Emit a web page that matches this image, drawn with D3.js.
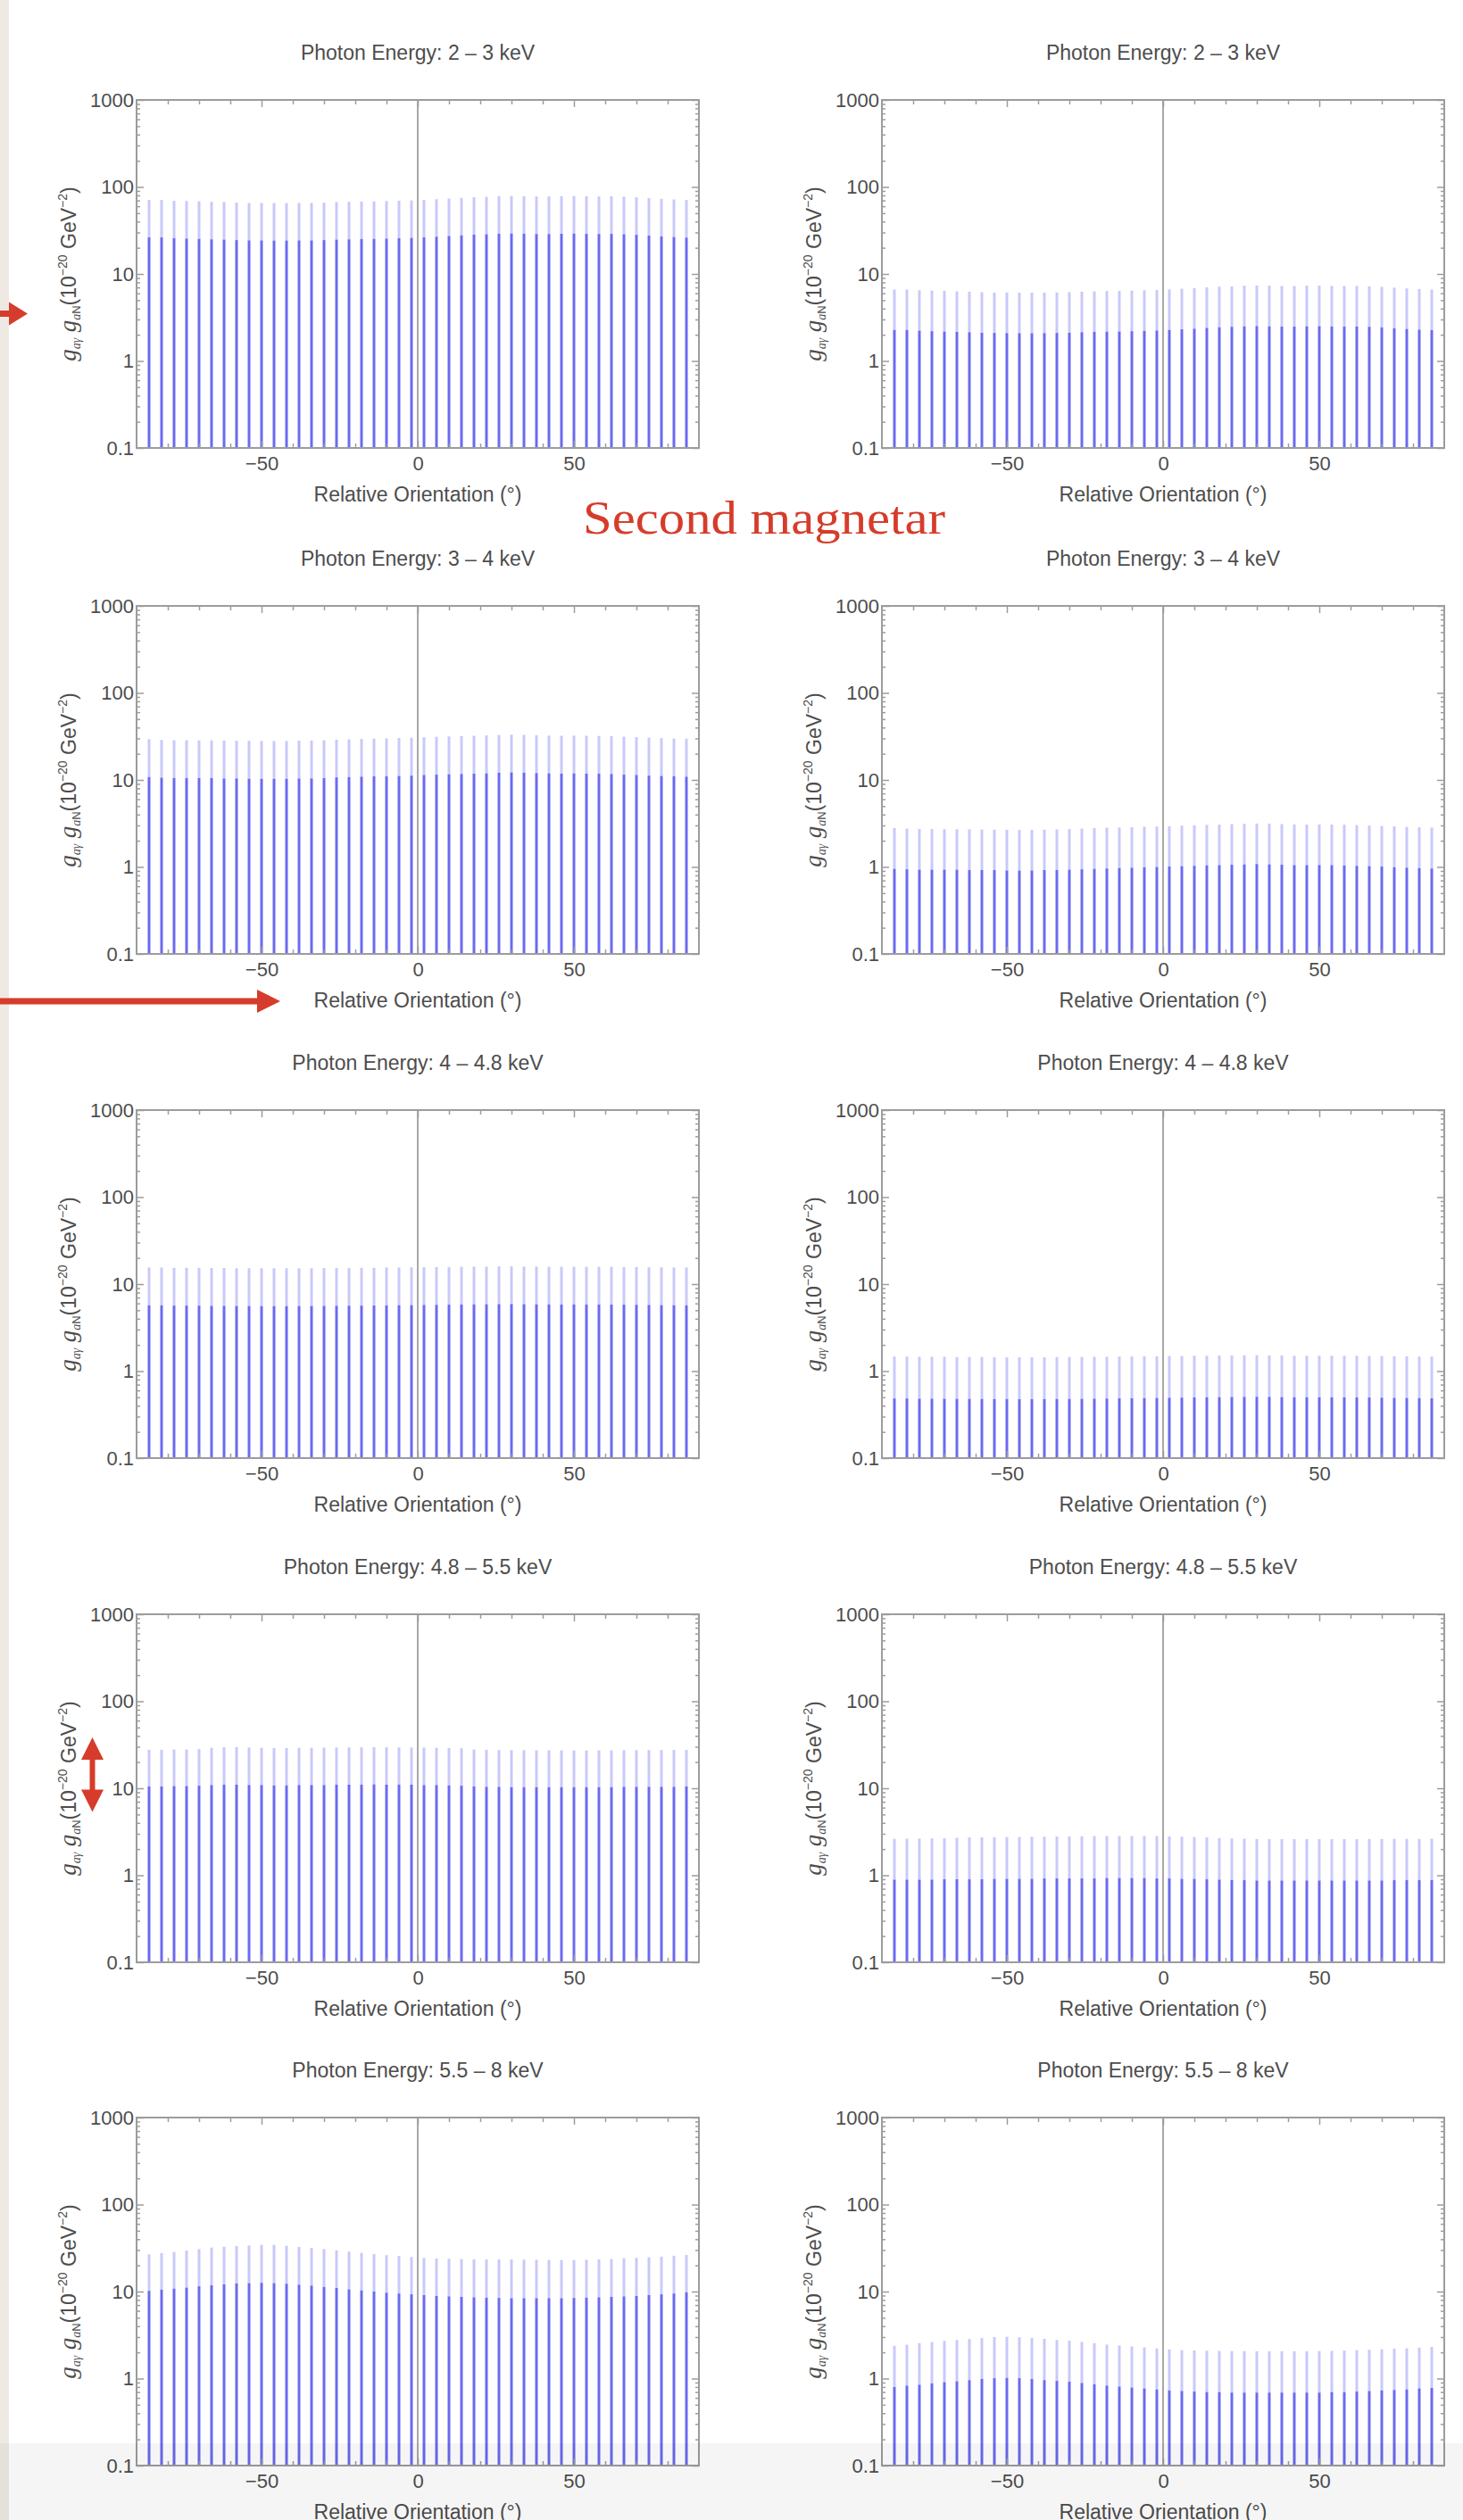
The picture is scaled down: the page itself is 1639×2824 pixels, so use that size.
<!DOCTYPE html>
<html>
<head>
<meta charset="utf-8">
<script src="https://cdnjs.cloudflare.com/ajax/libs/d3/7.8.5/d3.min.js"></script>
<style>
  html, body { margin: 0; padding: 0; background: #fff; }
  svg { display: block; }
</style>
</head>
<body>
<svg id="slide" width="1639" height="2824"></svg>
<script>
// Relative orientation of each sample (degrees)
const angles = [-86,-82,-78,-74,-70,-66,-62,-58,-54,-50,-46,-42,-38,-34,-30,-26,-22,-18,-14,-10,-6,-2,
                2,6,10,14,18,22,26,30,34,38,42,46,50,54,58,62,66,70,74,78,82,86];

// Photon energy bands (keV), one row of panels each
const energyBands = ["2 – 3", "3 – 4", "4 – 4.8", "4.8 – 5.5", "5.5 – 8"];

// Axis ticks
const xTickValues = [-50, 0, 50];
const xTickLabels = ["−50", "0", "50"];
const yTickValues = [0.1, 1, 10, 100, 1000];
const yTickLabels = ["0.1", "1", "10", "100", "1000"];

// g_aγ g_aN in units of 1e-20 GeV^-2 : lower (solid) and upper (faint) levels
// left column
const lo_L_2_3 = [26.3,26.3,25.8,25.5,25.3,25.0,24.8,24.5,24.3,24.3,24.2,24.2,24.3,24.3,24.5,24.8,25.0,25.2,25.3,25.5,25.8,26.0,
                  26.3,26.8,27.3,27.8,28.3,28.6,29.0,29.2,29.0,28.8,28.8,29.0,29.1,28.9,28.8,28.9,28.6,28.2,27.6,27.0,26.6,26.2];
const hi_L_2_3 = [71.0,71.0,69.5,69.0,68.5,67.5,67.0,66.0,65.5,65.5,65.3,65.3,65.5,65.5,66.0,67.0,67.5,68.0,68.3,69.0,69.5,70.0,
                  71.0,72.3,73.5,75.0,76.3,77.0,78.3,78.8,78.3,77.8,77.8,78.3,78.5,78.0,77.8,78.0,77.2,76.0,74.5,73.0,71.8,70.7];
const lo_L_3_4 = [10.8,10.6,10.5,10.5,10.5,10.5,10.4,10.4,10.3,10.3,10.3,10.3,10.4,10.4,10.5,10.7,10.8,10.9,11.0,11.0,11.1,11.2,
                  11.4,11.5,11.6,11.7,11.8,11.9,12.1,12.2,12.1,12.0,11.9,11.8,11.9,11.8,11.8,11.7,11.5,11.4,11.2,11.1,11.0,10.9];
const hi_L_3_4 = [29.4,28.8,28.6,28.6,28.5,28.5,28.4,28.2,28.1,28.0,28.0,28.0,28.2,28.4,28.6,29.0,29.3,29.6,29.8,30.0,30.3,30.5,
                  30.9,31.3,31.6,31.9,32.2,32.5,32.8,33.1,33.0,32.6,32.3,32.2,32.3,32.2,32.0,31.8,31.4,31.0,30.6,30.2,29.9,29.7];
const lo_L_4_48 = [5.70,5.70,5.66,5.66,5.65,5.63,5.62,5.60,5.60,5.59,5.59,5.59,5.60,5.60,5.62,5.63,5.64,5.66,5.68,5.70,5.72,5.74,
                   5.76,5.78,5.80,5.83,5.85,5.87,5.89,5.90,5.88,5.86,5.84,5.83,5.83,5.82,5.82,5.81,5.80,5.78,5.76,5.74,5.72,5.71];
const hi_L_4_48 = [15.5,15.5,15.4,15.4,15.4,15.3,15.3,15.2,15.2,15.2,15.2,15.2,15.2,15.2,15.3,15.3,15.3,15.4,15.4,15.5,15.5,15.6,
                   15.6,15.7,15.7,15.8,15.9,15.9,16.0,16.0,15.9,15.9,15.8,15.8,15.8,15.8,15.8,15.8,15.7,15.7,15.6,15.6,15.5,15.5];
const lo_L_48_55 = [10.5,10.5,10.6,10.6,10.7,10.9,11.0,11.0,10.9,10.9,10.8,10.8,10.9,10.9,10.9,11.0,11.0,11.0,11.1,11.0,11.0,11.0,
                    10.9,10.9,10.8,10.7,10.5,10.4,10.4,10.3,10.3,10.3,10.3,10.3,10.3,10.3,10.3,10.3,10.4,10.4,10.4,10.4,10.4,10.5];
const hi_L_48_55 = [27.7,27.7,27.9,27.9,28.3,29.2,29.7,29.7,29.4,29.2,29.0,29.0,29.2,29.2,29.3,29.4,29.5,29.6,29.7,29.6,29.5,29.4,
                    29.3,29.2,29.0,28.8,27.9,27.7,27.5,27.4,27.4,27.3,27.3,27.3,27.2,27.2,27.3,27.3,27.4,27.4,27.5,27.5,27.6,27.6];
const lo_L_55_8 = [10.2,10.5,10.8,11.1,11.5,11.8,12.1,12.4,12.5,12.6,12.5,12.3,12.0,11.7,11.3,11.0,10.6,10.3,10.0,9.7,9.5,9.3,
                   9.1,8.9,8.8,8.7,8.6,8.5,8.45,8.4,8.4,8.4,8.4,8.4,8.45,8.5,8.6,8.7,8.8,8.9,9.1,9.3,9.5,9.8];
const hi_L_55_8 = [26.7,27.6,28.5,29.6,30.8,32.1,32.8,33.3,33.8,34.4,34.4,33.6,32.6,31.8,30.8,29.8,28.8,27.8,27.0,26.2,25.6,25.0,
                   24.3,24.0,23.8,23.6,23.5,23.4,23.4,23.4,23.3,23.2,23.1,23.0,23.0,23.2,23.5,23.7,24.1,24.4,24.8,25.2,25.8,26.3];
// right column
const lo_R_2_3 = [2.27,2.27,2.23,2.20,2.18,2.16,2.14,2.11,2.10,2.09,2.09,2.08,2.09,2.10,2.11,2.14,2.16,2.17,2.18,2.20,2.22,2.24,
                  2.27,2.31,2.35,2.40,2.44,2.47,2.50,2.52,2.50,2.48,2.48,2.50,2.51,2.49,2.48,2.49,2.47,2.43,2.38,2.33,2.29,2.26];
const hi_R_2_3 = [6.62,6.63,6.50,6.45,6.40,6.31,6.26,6.17,6.12,6.12,6.10,6.09,6.12,6.13,6.17,6.26,6.31,6.36,6.38,6.45,6.50,6.54,
                  6.64,6.76,6.87,7.01,7.13,7.20,7.32,7.36,7.32,7.27,7.27,7.32,7.34,7.29,7.27,7.29,7.21,7.10,6.96,6.82,6.71,6.61];
const lo_R_3_4 = [0.95,0.94,0.93,0.93,0.93,0.93,0.92,0.92,0.92,0.91,0.91,0.91,0.92,0.92,0.93,0.94,0.95,0.96,0.97,0.98,0.99,1.00,
                  1.01,1.02,1.03,1.04,1.05,1.06,1.07,1.08,1.07,1.06,1.05,1.05,1.05,1.05,1.04,1.03,1.02,1.01,0.99,0.98,0.97,0.96];
const hi_R_3_4 = [2.80,2.75,2.73,2.72,2.71,2.71,2.70,2.69,2.68,2.67,2.67,2.67,2.68,2.70,2.72,2.76,2.79,2.82,2.84,2.86,2.89,2.91,
                  2.94,2.98,3.01,3.04,3.07,3.10,3.12,3.15,3.14,3.11,3.08,3.07,3.08,3.07,3.05,3.03,2.99,2.95,2.92,2.88,2.85,2.83];
const lo_R_4_48 = [0.485,0.485,0.482,0.482,0.481,0.480,0.479,0.478,0.477,0.477,0.476,0.476,0.477,0.478,0.479,0.480,0.482,0.484,0.486,0.488,0.490,0.492,
                   0.494,0.496,0.498,0.500,0.502,0.504,0.506,0.507,0.505,0.503,0.501,0.500,0.500,0.499,0.499,0.498,0.497,0.495,0.493,0.491,0.489,0.487];
const hi_R_4_48 = [1.47,1.47,1.46,1.46,1.46,1.45,1.45,1.45,1.44,1.44,1.44,1.44,1.44,1.45,1.45,1.45,1.46,1.46,1.47,1.47,1.48,1.48,
                   1.49,1.49,1.50,1.50,1.51,1.51,1.52,1.52,1.51,1.51,1.50,1.50,1.50,1.50,1.50,1.50,1.49,1.49,1.48,1.48,1.47,1.47];
const lo_R_48_55 = [0.89,0.89,0.89,0.89,0.90,0.90,0.90,0.90,0.91,0.91,0.91,0.91,0.92,0.92,0.92,0.92,0.92,0.93,0.93,0.93,0.93,0.92,
                    0.92,0.91,0.91,0.90,0.89,0.88,0.88,0.87,0.87,0.87,0.87,0.87,0.87,0.87,0.87,0.87,0.87,0.87,0.88,0.88,0.88,0.88];
const hi_R_48_55 = [2.62,2.63,2.64,2.65,2.67,2.70,2.72,2.73,2.74,2.75,2.76,2.77,2.78,2.79,2.80,2.81,2.82,2.82,2.83,2.83,2.83,2.82,
                    2.80,2.78,2.75,2.72,2.68,2.65,2.63,2.61,2.60,2.60,2.60,2.60,2.60,2.60,2.60,2.60,2.61,2.61,2.62,2.62,2.62,2.63];
const lo_R_55_8 = [0.80,0.83,0.85,0.88,0.91,0.93,0.96,0.99,1.01,1.02,1.01,0.99,0.96,0.94,0.92,0.89,0.86,0.83,0.81,0.79,0.77,0.75,
                   0.73,0.72,0.71,0.70,0.70,0.69,0.69,0.69,0.69,0.69,0.69,0.69,0.69,0.70,0.70,0.71,0.72,0.73,0.74,0.75,0.77,0.78];
const hi_R_55_8 = [2.38,2.45,2.55,2.63,2.71,2.78,2.85,2.92,3.00,3.02,2.98,2.92,2.86,2.78,2.72,2.64,2.55,2.46,2.40,2.34,2.28,2.22,
                   2.16,2.12,2.10,2.09,2.08,2.07,2.07,2.06,2.06,2.06,2.06,2.06,2.07,2.08,2.10,2.12,2.14,2.17,2.20,2.23,2.27,2.31];

const leftSeries  = [[lo_L_2_3, hi_L_2_3], [lo_L_3_4, hi_L_3_4], [lo_L_4_48, hi_L_4_48], [lo_L_48_55, hi_L_48_55], [lo_L_55_8, hi_L_55_8]];
const rightSeries = [[lo_R_2_3, hi_R_2_3], [lo_R_3_4, hi_R_3_4], [lo_R_4_48, hi_R_4_48], [lo_R_48_55, hi_R_48_55], [lo_R_55_8, hi_R_55_8]];

const panels = [];
energyBands.forEach((band, r) => {
  panels.push({ col: 0, row: r, band, lo: leftSeries[r][0], hi: leftSeries[r][1] });
  panels.push({ col: 1, row: r, band, lo: rightSeries[r][0], hi: rightSeries[r][1] });
});

// ---- layout ----
const W = 1639, H = 2824;
const colX = [153, 988];
const rowY = [112, 679, 1244, 1809, 2373];
const PW = 630, PH = 390;
const SANS = "'Liberation Sans', Arial, Helvetica, sans-serif";
const SERIF = "'Liberation Serif', 'Times New Roman', serif";
const RED = "#d63c2b";
const FRAME = "#9c9c9c";
const TEXT = "#4d4d4d";

const svg = d3.select("#slide");
svg.append("rect").attr("width", W).attr("height", H).attr("fill", "#fff");
svg.append("rect").attr("x", 0).attr("y", 0).attr("width", 10).attr("height", H).attr("fill", "#eeeae3");

panels.forEach(p => {
  const g = svg.append("g").attr("transform", `translate(${colX[p.col]},${rowY[p.row]})`);
  const x = d3.scaleLinear().domain([-90, 90]).range([0, PW]);
  const y = d3.scaleLog().domain([0.1, 1000]).range([PH, 0]);

  // faint upper part of each bar
  g.append("g").selectAll("line").data(angles).join("line")
    .attr("x1", d => x(d)).attr("x2", d => x(d))
    .attr("y1", (d, i) => y(p.lo[i])).attr("y2", (d, i) => y(p.hi[i]))
    .attr("stroke", "#c9c9fa").attr("stroke-width", 3);
  // solid lower part
  g.append("g").selectAll("line").data(angles).join("line")
    .attr("x1", d => x(d)).attr("x2", d => x(d))
    .attr("y1", y(0.1)).attr("y2", (d, i) => y(p.lo[i]))
    .attr("stroke", "#6a6af0").attr("stroke-width", 3);

  // zero reference line
  g.append("line").attr("x1", x(0)).attr("x2", x(0)).attr("y1", 0).attr("y2", PH)
    .attr("stroke", "#a8a8a8").attr("stroke-width", 2);

  // minor ticks
  const xMinor = d3.range(-80, 81, 10).filter(v => !xTickValues.includes(v));
  const yMinor = y.ticks().filter(v => !yTickValues.some(t => Math.abs(t - v) < 1e-9));

  const styleAxis = sel => {
    sel.select(".domain").remove();
    sel.selectAll(".tick line").attr("stroke", FRAME).attr("stroke-width", 1.5);
    sel.selectAll(".tick text").attr("fill", TEXT).attr("font-family", SANS).attr("font-size", 22);
  };

  g.append("g").attr("transform", `translate(0,${PH})`)
    .call(d3.axisBottom(x).tickValues(xTickValues).tickSize(-8).tickPadding(9)
      .tickFormat((d, i) => xTickLabels[i])).call(styleAxis);
  g.append("g").attr("transform", `translate(0,${PH})`)
    .call(d3.axisBottom(x).tickValues(xMinor).tickSize(-5).tickFormat("")).call(styleAxis);
  g.append("g").call(d3.axisTop(x).tickValues(xTickValues).tickSize(-8).tickFormat("")).call(styleAxis);
  g.append("g").call(d3.axisTop(x).tickValues(xMinor).tickSize(-5).tickFormat("")).call(styleAxis);

  g.append("g").call(d3.axisLeft(y).tickValues(yTickValues).tickSize(-8).tickPadding(3)
      .tickFormat((d, i) => yTickLabels[i])).call(styleAxis);
  g.append("g").call(d3.axisLeft(y).tickValues(yMinor).tickSize(-4).tickFormat("")).call(styleAxis);
  g.append("g").attr("transform", `translate(${PW},0)`)
    .call(d3.axisRight(y).tickValues(yTickValues).tickSize(-8).tickFormat("")).call(styleAxis);
  g.append("g").attr("transform", `translate(${PW},0)`)
    .call(d3.axisRight(y).tickValues(yMinor).tickSize(-4).tickFormat("")).call(styleAxis);

  // frame
  g.append("rect").attr("x", 0).attr("y", 0).attr("width", PW).attr("height", PH)
    .attr("fill", "none").attr("stroke", FRAME).attr("stroke-width", 2);

  // title
  g.append("text").attr("x", x(0)).attr("y", -45).attr("text-anchor", "middle")
    .attr("font-family", SANS).attr("font-size", 23).attr("fill", TEXT)
    .text(`Photon Energy: ${p.band} keV`);

  // x axis label
  g.append("text").attr("x", x(0)).attr("y", PH + 60).attr("text-anchor", "middle")
    .attr("font-family", SANS).attr("font-size", 23).attr("fill", TEXT)
    .text("Relative Orientation (°)");

  // y axis label
  const yl = g.append("text").attr("transform", `translate(-68,${PH / 2}) rotate(-90)`)
    .attr("text-anchor", "middle").attr("font-family", SANS).attr("font-size", 23).attr("fill", TEXT);
  yl.append("tspan").attr("font-family", SERIF).attr("font-style", "italic").attr("font-size", 27).text("g");
  yl.append("tspan").attr("font-family", SERIF).attr("font-style", "italic").attr("font-size", 14).attr("dy", 5).text("aγ");
  yl.append("tspan").attr("dy", -5).text(" ");
  yl.append("tspan").attr("font-family", SERIF).attr("font-style", "italic").attr("font-size", 27).text("g");
  yl.append("tspan").attr("font-family", SERIF).attr("font-style", "italic").attr("font-size", 14).attr("dy", 5).text("a");
  yl.append("tspan").attr("font-size", 13).text("N");
  yl.append("tspan").attr("dy", -5).text("(10");
  yl.append("tspan").attr("font-size", 14).attr("dy", -10).text("−20");
  yl.append("tspan").attr("dy", 10).text(" GeV");
  yl.append("tspan").attr("font-size", 14).attr("dy", -10).text("−2");
  yl.append("tspan").attr("dy", 10).text(")");
});

// ---- slide annotations ----
const ann = svg.append("g").attr("fill", RED);
// short arrow pointing at the first panel's axis label
ann.append("rect").attr("x", 0).attr("y", 348).attr("width", 12).attr("height", 7);
ann.append("path").attr("d", "M10,338.5 L31,351.5 L10,364.5 Z");
// long arrow pointing at the x-axis label
ann.append("rect").attr("x", 0).attr("y", 1118.5).attr("width", 292).attr("height", 7);
ann.append("path").attr("d", "M288,1109 L314,1122 L288,1135 Z");
// double-headed vertical arrow
ann.append("rect").attr("x", 100.5).attr("y", 1968).attr("width", 6).attr("height", 42);
ann.append("path").attr("d", "M103.5,1947 L116,1972 L91,1972 Z");
ann.append("path").attr("d", "M103.5,2030.5 L116,2005.5 L91,2005.5 Z");

svg.append("text").attr("x", 653).attr("y", 598)
  .attr("font-family", SERIF).attr("font-size", 52).attr("fill", RED)
  .attr("textLength", 406).attr("lengthAdjust", "spacingAndGlyphs")
  .text("Second magnetar");

// light grey band along the bottom edge
svg.append("rect").attr("x", 0).attr("y", 2738).attr("width", W).attr("height", H - 2738)
  .attr("fill", "#000").attr("opacity", 0.04);
</script>
</body>
</html>
